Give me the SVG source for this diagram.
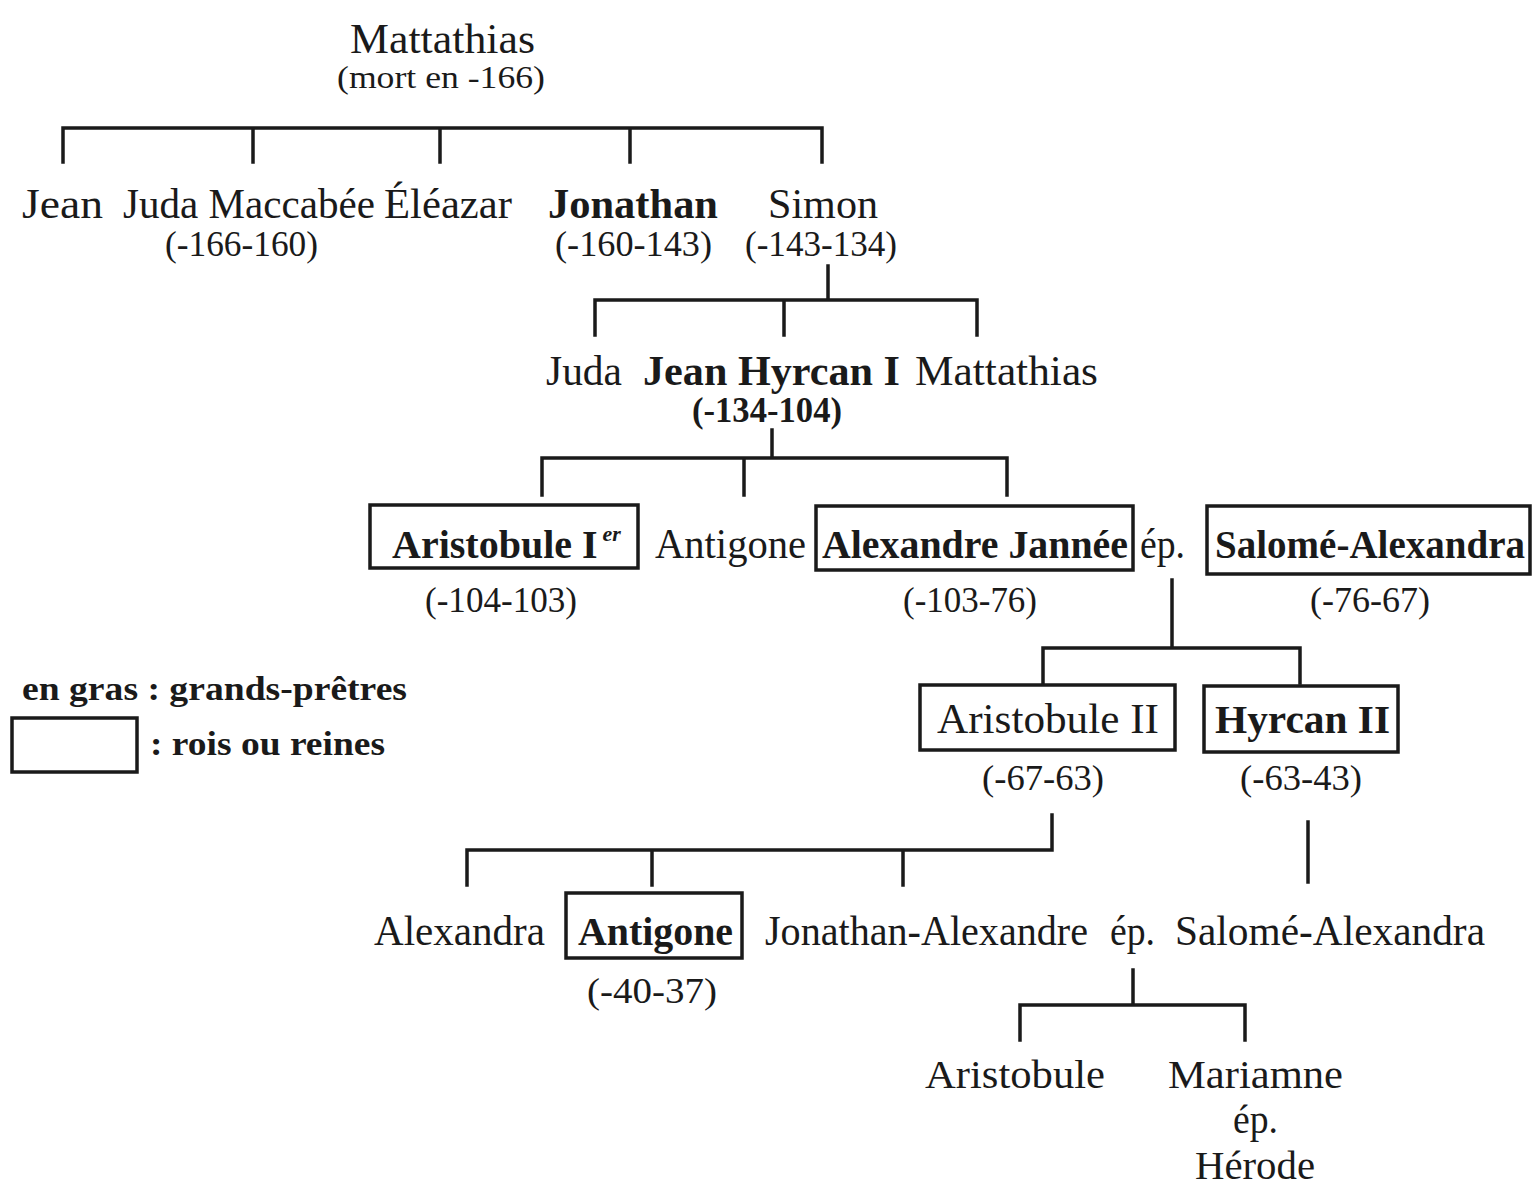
<svg xmlns="http://www.w3.org/2000/svg" width="1539" height="1200" viewBox="0 0 1539 1200">
<style>
text{font-family:"Liberation Serif","Times New Roman",serif;fill:#1a1a1a}
.n{font-size:42px}
.b{font-size:42px;font-weight:bold}
.bx{font-size:40px;font-weight:bold}
.d{font-size:35px}
.db{font-size:35px;font-weight:bold}
.lg{font-size:34px;font-weight:bold}
.s{font-size:40px}
.box{fill:none;stroke:#1a1a1a;stroke-width:3.5}
.c{fill:none;stroke:#1a1a1a;stroke-width:3.5;stroke-linecap:square}
</style>
<rect width="1539" height="1200" fill="#ffffff"/>
<g id="connectors">
<path class="c" d="M63 162V128H822V162M253 128V162M440 128V162M630 128V162"/>
<path class="c" d="M828 266V300M595 335V300H977V335M784 300V335"/>
<path class="c" d="M772 430V458M542 495V458H1007V495M744 458V495"/>
<path class="c" d="M1172 580V648M1043 683V648H1300V683"/>
<path class="c" d="M1052 815V850H467V885M652 850V885M903 850V885"/>
<path class="c" d="M1308 822V882"/>
<path class="c" d="M1133 970V1005M1020 1040V1005H1245V1040"/>
</g>
<g id="mattathias"><text class="n" x="350" y="53" textLength="185" lengthAdjust="spacingAndGlyphs">Mattathias</text><text x="337" y="88" font-size="32" textLength="208" lengthAdjust="spacingAndGlyphs">(mort en -166)</text></g>
<g id="jean"><text class="n" x="22" y="218" textLength="81" lengthAdjust="spacingAndGlyphs">Jean</text></g>
<g id="juda-maccabee"><text class="n" x="123" y="218" textLength="252" lengthAdjust="spacingAndGlyphs">Juda Maccabée</text><text class="d" x="165" y="256" textLength="153" lengthAdjust="spacingAndGlyphs">(-166-160)</text></g>
<g id="eleazar"><text class="n" x="384" y="218" textLength="128" lengthAdjust="spacingAndGlyphs">Éléazar</text></g>
<g id="jonathan"><text class="b" x="548" y="218" textLength="170" lengthAdjust="spacingAndGlyphs">Jonathan</text><text class="d" x="555" y="256" textLength="157" lengthAdjust="spacingAndGlyphs">(-160-143)</text></g>
<g id="simon"><text class="n" x="768" y="218" textLength="110" lengthAdjust="spacingAndGlyphs">Simon</text><text class="d" x="745" y="256" textLength="152" lengthAdjust="spacingAndGlyphs">(-143-134)</text></g>
<g id="juda"><text class="n" x="546" y="385" textLength="76" lengthAdjust="spacingAndGlyphs">Juda</text></g>
<g id="jean-hyrcan"><text class="b" x="643" y="385" textLength="257" lengthAdjust="spacingAndGlyphs">Jean Hyrcan I</text><text class="db" x="692" y="422" textLength="150" lengthAdjust="spacingAndGlyphs">(-134-104)</text></g>
<g id="mattathias2"><text class="n" x="915" y="385" textLength="183" lengthAdjust="spacingAndGlyphs">Mattathias</text></g>
<g id="aristobule1"><rect class="box" x="370" y="505" width="268" height="63"/><text class="bx" x="392" y="558">Aristobule I<tspan font-size="22" dx="5" dy="-17" font-style="italic">er</tspan></text><text class="d" x="425" y="612" textLength="152" lengthAdjust="spacingAndGlyphs">(-104-103)</text></g>
<g id="antigone1"><text class="n" x="655" y="558" textLength="151" lengthAdjust="spacingAndGlyphs">Antigone</text></g>
<g id="alexandre-jannee"><rect class="box" x="816" y="506" width="317" height="64"/><text class="bx" x="822" y="558" textLength="306" lengthAdjust="spacingAndGlyphs">Alexandre Jannée</text><text class="d" x="903" y="612" textLength="134" lengthAdjust="spacingAndGlyphs">(-103-76)</text></g>
<g id="ep1"><text class="n" x="1140" y="558" textLength="45" lengthAdjust="spacingAndGlyphs">ép.</text></g>
<g id="salome-alexandra1"><rect class="box" x="1207" y="506" width="323" height="68"/><text class="bx" x="1215" y="558" textLength="310" lengthAdjust="spacingAndGlyphs">Salomé-Alexandra</text><text class="d" x="1310" y="612" textLength="120" lengthAdjust="spacingAndGlyphs">(-76-67)</text></g>
<g id="legend"><text class="lg" x="22" y="700" textLength="385" lengthAdjust="spacingAndGlyphs">en gras : grands-prêtres</text><rect class="box" x="12" y="718" width="125" height="54"/><text class="lg" x="150" y="755" textLength="235" lengthAdjust="spacingAndGlyphs">: rois ou reines</text></g>
<g id="aristobule2"><rect class="box" x="920" y="685" width="255" height="65"/><text class="n" x="937" y="733" textLength="222" lengthAdjust="spacingAndGlyphs">Aristobule II</text><text class="d" x="982" y="790" textLength="122" lengthAdjust="spacingAndGlyphs">(-67-63)</text></g>
<g id="hyrcan2"><rect class="box" x="1204" y="686" width="194" height="66"/><text class="bx" x="1215" y="733" textLength="175" lengthAdjust="spacingAndGlyphs">Hyrcan II</text><text class="d" x="1240" y="790" textLength="122" lengthAdjust="spacingAndGlyphs">(-63-43)</text></g>
<g id="alexandra"><text class="n" x="374" y="945" textLength="171" lengthAdjust="spacingAndGlyphs">Alexandra</text></g>
<g id="antigone2"><rect class="box" x="566" y="893" width="176" height="65"/><text class="bx" x="578" y="945" textLength="155" lengthAdjust="spacingAndGlyphs">Antigone</text><text class="d" x="587" y="1003" textLength="130" lengthAdjust="spacingAndGlyphs">(-40-37)</text></g>
<g id="jonathan-alexandre"><text class="n" x="765" y="945" textLength="323" lengthAdjust="spacingAndGlyphs">Jonathan-Alexandre</text></g>
<g id="ep2"><text class="n" x="1110" y="945" textLength="45" lengthAdjust="spacingAndGlyphs">ép.</text></g>
<g id="salome-alexandra2"><text class="n" x="1175" y="945" textLength="310" lengthAdjust="spacingAndGlyphs">Salomé-Alexandra</text></g>
<g id="aristobule3"><text class="s" x="925" y="1088" textLength="180" lengthAdjust="spacingAndGlyphs">Aristobule</text></g>
<g id="mariamne"><text class="s" x="1168" y="1088" textLength="175" lengthAdjust="spacingAndGlyphs">Mariamne</text><text class="s" x="1233" y="1133" textLength="45" lengthAdjust="spacingAndGlyphs">ép.</text><text class="s" x="1195" y="1179" textLength="120" lengthAdjust="spacingAndGlyphs">Hérode</text></g>
</svg>
